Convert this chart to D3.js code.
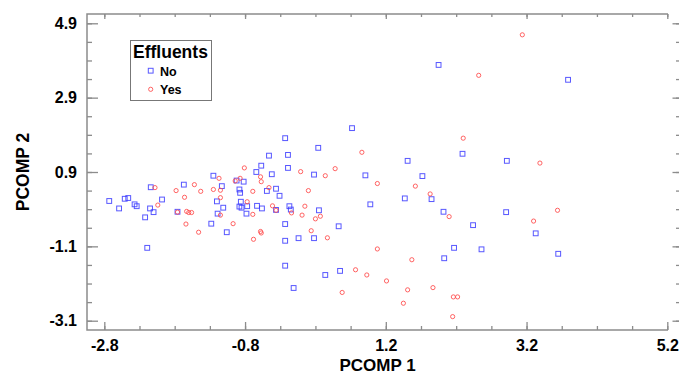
<!DOCTYPE html>
<html><head><meta charset="utf-8">
<script src="https://cdn.jsdelivr.net/npm/d3@7"></script>
<style>body{margin:0;background:#fff}svg{display:block}text{font-family:"Liberation Sans",Arial,sans-serif;font-weight:bold;fill:#000}</style>
</head><body><svg id="c" width="679" height="374"></svg>
<script>
// PCOMP 1 / PCOMP 2 scores, Effluents = No (blue squares)
const noX = [-2.73,-2.59,-2.51,-2.46,-2.37,-2.34,-2.14,-2.15,-2.22,-2.10,-1.98,-2.19,-1.67,-1.76,-1.25,-1.13,-1.20,-1.11,-1.19,-1.28,-1.06,-0.92,-0.82,-0.88,-0.87,-0.86,-0.88,-0.85,-0.77,-0.78,-0.64,-0.57,-0.46,-0.42,-0.49,-0.36,-0.31,-0.63,-0.56,-0.36,-0.23,-0.19,-0.19,-0.17,-0.15,-0.23,-0.23,-0.23,-0.11,-0.04,0.18,0.18,0.24,0.25,0.34,0.53,0.55,0.72,0.91,0.98,1.47,1.51,1.72,1.85,1.95,2.02,2.03,2.17,2.29,2.44,2.56,2.92,2.91,3.33,3.65,3.79];
const noY = [0.12,-0.08,0.18,0.20,0.03,-0.02,0.49,-0.08,-0.32,-0.18,0.16,-1.14,0.56,-0.17,0.80,0.52,0.11,-0.06,-0.22,-0.49,-0.72,0.67,0.64,0.43,0.34,0.10,-0.03,-0.06,-0.02,-0.22,0.90,1.07,1.34,0.84,0.39,0.45,0.26,-0.01,-0.08,-0.12,1.81,1.36,1.01,-0.02,-0.11,-0.50,-0.95,-1.62,-2.22,-0.88,-0.88,0.83,1.55,-0.13,-1.87,-0.56,-1.76,2.08,0.81,0.03,0.19,1.20,0.79,0.17,3.78,-0.17,-1.42,-1.14,1.39,-0.53,-1.18,1.20,-0.18,-0.75,-1.30,3.38];
// Effluents = Yes (red circles)
const yesX = [-2.08,-2.04,-1.78,-1.66,-1.52,-1.76,-1.63,-1.60,-1.56,-1.64,-1.46,-1.43,-1.25,-1.17,-1.15,-1.15,-1.15,-0.97,-0.94,-0.87,-0.81,-0.69,-0.77,-0.69,-0.68,-0.58,-0.57,-0.58,-0.57,-0.46,-0.41,-0.36,-0.14,-0.01,0.10,0.05,0.01,0.20,0.27,0.14,0.37,0.34,0.48,0.58,0.77,0.86,0.93,1.08,1.08,1.21,1.45,1.51,1.57,1.62,1.83,1.87,2.10,2.16,2.22,2.15,2.30,2.52,3.14,3.30,3.39,3.64];
const yesY = [0.48,0.01,0.40,0.22,0.56,-0.18,-0.16,-0.19,-0.19,-0.50,-0.72,0.38,0.43,0.73,0.41,0.21,-0.26,-0.49,0.66,0.73,1.01,0.38,0.10,-0.24,-0.91,-0.70,-0.74,0.77,0.64,0.48,-0.01,-0.13,-0.20,0.91,0.40,-0.02,-0.26,-0.36,-0.29,-0.68,-0.87,0.80,0.99,-2.34,-1.73,1.43,-1.87,0.59,-1.17,-2.03,-2.63,-2.27,-1.46,0.52,0.31,-2.21,-0.30,-2.46,-2.46,-2.99,1.81,3.50,4.59,-0.42,1.14,-0.13];
const xMajor = [-2.8,-0.8,1.2,3.2,5.2];
const yMajor = [4.9,2.9,0.9,-1.1,-3.1];
const legendTitle = "Effluents";
const groups = ["No","Yes"];

const L=87,R=668,T=14,B=330;
const x=d3.scaleLinear().domain([-3.046,5.21]).range([L,R]);
const y=d3.scaleLinear().domain([-3.35,5.15]).range([B,T]);
const xMinor=d3.range(-2.8,5.21,0.5), yMinor=d3.range(-3.1,4.91,0.5);
const svg=d3.select("#c");
const gray="#8c8c8c";
const fmt=d=>d3.format(".1f")(d).replace("−","-");

function styleAxis(g){g.select(".domain").remove();g.selectAll("line").attr("stroke",gray).attr("stroke-width",1.3);}
// bottom
svg.append("g").attr("transform",`translate(0,${B})`).call(d3.axisBottom(x).tickValues(xMinor).tickSize(-4).tickFormat("")).call(styleAxis);
svg.append("g").attr("transform",`translate(0,${B})`).call(d3.axisBottom(x).tickValues(xMajor).tickSize(-8).tickPadding(10).tickFormat(fmt)).call(styleAxis)
  .selectAll("text").attr("font-size",16).attr("fill","#000");
// top
svg.append("g").attr("transform",`translate(0,${T})`).call(d3.axisTop(x).tickValues(xMinor).tickSize(-3).tickFormat("")).call(styleAxis);
svg.append("g").attr("transform",`translate(0,${T})`).call(d3.axisTop(x).tickValues(xMajor).tickSize(-5).tickFormat("")).call(styleAxis);
// left
svg.append("g").attr("transform",`translate(${L},0)`).call(d3.axisLeft(y).tickValues(yMinor).tickSize(-5).tickFormat("")).call(styleAxis);
svg.append("g").attr("transform",`translate(${L},0)`).call(d3.axisLeft(y).tickValues(yMajor).tickSize(-11).tickPadding(10).tickFormat(fmt)).call(styleAxis)
  .selectAll("text").attr("font-size",16).attr("fill","#000");
// right (outside ticks)
svg.append("g").attr("transform",`translate(679,0)`).call(d3.axisLeft(y).tickValues(yMinor).tickSize(3).tickFormat("")).call(styleAxis);
svg.append("g").attr("transform",`translate(679,0)`).call(d3.axisLeft(y).tickValues(yMajor).tickSize(6.5).tickFormat("")).call(styleAxis);
// frame
svg.append("path").attr("d",`M${R},${T}H${L}V${B}H${R}`).attr("fill","none").attr("stroke",gray).attr("stroke-width",1.5);

// titles
svg.append("text").attr("x",(L+R)/2).attr("y",371).attr("text-anchor","middle").attr("font-size",17).text("PCOMP 1");
svg.append("text").attr("transform",`translate(29,${(T+B)/2}) rotate(-90)`).attr("text-anchor","middle").attr("font-size",17.5).text("PCOMP 2");

const blue="#3a3aff", red="#ff4a4a";
const sq=4.8;
const plot=svg.append("g");
plot.selectAll(".n").data(d3.zip(noX,noY)).join("rect").attr("class","n")
  .attr("x",d=>x(d[0])-sq/2).attr("y",d=>y(d[1])-sq/2).attr("width",sq).attr("height",sq)
  .attr("fill","none").attr("stroke",blue).attr("stroke-width",1).attr("opacity",0.85);
plot.selectAll(".y").data(d3.zip(yesX,yesY)).join("circle").attr("class","y")
  .attr("cx",d=>x(d[0])).attr("cy",d=>y(d[1])).attr("r",2.1)
  .attr("fill","none").attr("stroke",red).attr("stroke-width",1).attr("opacity",0.85);

// legend
const lg=svg.append("g");
lg.append("rect").attr("x",130.5).attr("y",40.5).attr("width",81).attr("height",60).attr("fill","#fff").attr("stroke","#777").attr("stroke-width",1);
lg.append("text").attr("x",133).attr("y",58).attr("font-size",17.5).text(legendTitle);
lg.append("rect").attr("x",150.7-sq/2).attr("y",70.7-sq/2).attr("width",sq).attr("height",sq).attr("fill","none").attr("stroke",blue).attr("opacity",0.85);
lg.append("circle").attr("cx",150.7).attr("cy",89.3).attr("r",2.1).attr("fill","none").attr("stroke",red).attr("opacity",0.85);
lg.append("text").attr("x",160).attr("y",75.5).attr("font-size",12.5).text(groups[0]);
lg.append("text").attr("x",160).attr("y",94).attr("font-size",12.5).text(groups[1]);
</script></body></html>
